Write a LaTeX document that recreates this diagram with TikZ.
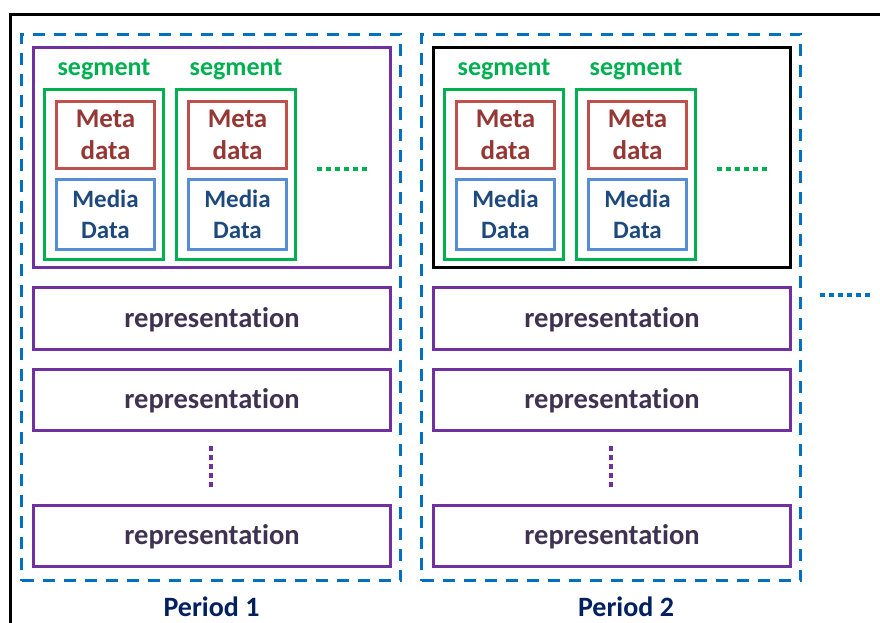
\documentclass[tikz,border=0pt]{standalone}
\usepackage{fontspec}
\setmainfont{Carlito}[Ligatures=NoCommon]
\definecolor{dashblue}{HTML}{0070C0}
\definecolor{setpurple}{HTML}{7030A0}
\definecolor{seggreen}{HTML}{00B050}
\definecolor{metared}{HTML}{C0504D}
\definecolor{metatext}{HTML}{953735}
\definecolor{mediablue}{HTML}{558ED5}
\definecolor{mediatext}{HTML}{1F497D}
\definecolor{reptext}{HTML}{3F3151}
\definecolor{periodtext}{HTML}{002060}
\tikzset{
  box/.style={draw, rectangle, inner sep=0pt, outer sep=0pt, align=center},
  periodbox/.style={box, draw=dashblue, line width=3pt, dash pattern=on 12pt off 9pt,
    minimum width=379pt, minimum height=546pt},
  setbox/.style={box, draw=setpurple, line width=2.8pt, minimum width=357.5pt, minimum height=220.5pt},
  chosenbox/.style={box, draw=black, line width=3pt, minimum width=357pt, minimum height=220pt},
  segbox/.style={box, draw=seggreen, line width=2.8pt, minimum width=119.5pt, minimum height=170.5pt},
  metabox/.style={box, draw=metared, line width=3pt, minimum width=98pt, minimum height=67pt,
    text=metatext, font=\fontsize{27}{32}\selectfont\bfseries},
  mediabox/.style={box, draw=mediablue, line width=2.8pt, minimum width=98.5pt, minimum height=70.5pt,
    text=mediatext, font=\fontsize{25}{30.5}\selectfont\bfseries},
  repbox/.style={box, draw=setpurple, line width=2.8pt, minimum width=357.5pt, minimum height=61.5pt,
    text height=22pt, text depth=5pt,
    text=reptext, font=\fontsize{28.5}{32}\selectfont\bfseries},
  seglabel/.style={inner sep=0pt, text=seggreen, font=\fontsize{26}{30}\selectfont\bfseries},
  periodlabel/.style={inner sep=0pt, text=periodtext, font=\fontsize{28}{32}\selectfont\bfseries},
  hdots/.style={line width=4.5pt, dash pattern=on 4.5pt off 4.5pt},
  vdots/.style={line width=4.5pt, dash pattern=on 4.5pt off 4.5pt, draw=setpurple},
}
\begin{document}
\begin{tikzpicture}[x=1pt,y=-1pt]
\useasboundingbox (0,0) rectangle (880,623);

% outer frame (open on the right and at the bottom)
\draw[line width=2.8pt] (10.75,623) -- (10.75,14.75) -- (880,14.75);

% the two periods
\node[periodbox] (p1) at (211,307.5) {};
\node[periodbox] (p2) at (611,307.5) {};
\node[periodlabel] (p1lab) at (211.5,607) {Period 1};
\node[periodlabel] (p2lab) at (626,607) {Period 2};

% adaptation sets
\node[setbox] (set1) at (212,157.5) {};
\node[chosenbox] (set2) at (612,157.5) {};

% segments
\foreach \sx/\nm in {104/a, 236/b, 504/c, 636/d}{
  \node[segbox] (seg\nm) at (\sx,174.5) {};
  \node[seglabel] (seglab\nm) at (\sx,69.5) {segment};
  \node[metabox] (meta\nm) at (\sx+1.5,135) {Meta\\data};
  \node[mediabox] (media\nm) at (\sx+1.5,214.5) {Media\\Data};
}

% further segments
\coordinate (g1s) at (317,169);
\coordinate (g1e) at (368,169);
\coordinate (g2s) at (717,169);
\coordinate (g2e) at (768,169);
\draw[hdots, draw=seggreen] (g1s) -- (g1e);
\draw[hdots, draw=seggreen] (g2s) -- (g2e);

% representations
\foreach \cx/\nm in {212/a, 612/b}{
  \node[repbox] (repone\nm) at (\cx,318.5) {representation};
  \node[repbox] (reptwo\nm) at (\cx,400) {representation};
  \node[repbox] (repthree\nm) at (\cx,536) {representation};
}

% more representations
\coordinate (v1s) at (211,446);
\coordinate (v1e) at (211,487);
\coordinate (v2s) at (611,446);
\coordinate (v2e) at (611,487);
\draw[vdots] (v1s) -- (v1e);
\draw[vdots] (v2s) -- (v2e);

% more periods
\coordinate (b1s) at (820,295);
\coordinate (b1e) at (871,295);
\draw[hdots, draw=dashblue] (b1s) -- (b1e);
\end{tikzpicture}
\end{document}
